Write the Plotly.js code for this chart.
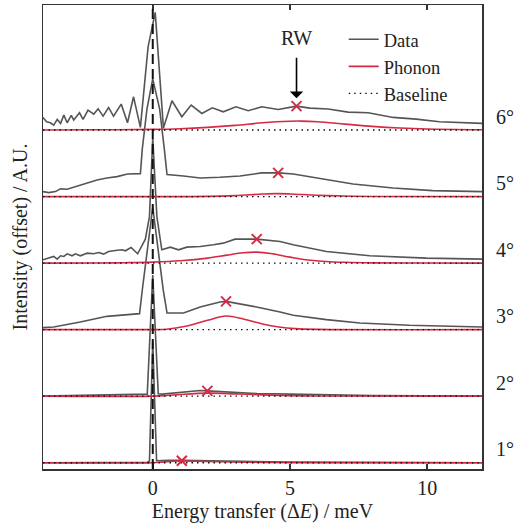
<!DOCTYPE html>
<html>
<head>
<meta charset="utf-8">
<script src="https://cdn.plot.ly/plotly-3.0.1.min.js"></script>
<style>
html,body{margin:0;padding:0;background:#fff;}
#chart{width:527px;height:529px;}
</style>
</head>
<body>
<div id="chart"></div>
<script>
// ---- Data (values relative to each curve's baseline) ----
const angleLabels = ['1°','2°','3°','4°','5°','6°'];
const offsets = [1, 2, 3, 4, 5, 6];
const xTicks = [0, 5, 10];
const elasticLine = 0;

const x1 = [-4,-2,-0.2,-0.12,0,0.14,0.3,0.6,1.06,1.6,2.5,3.5,5,7,9,12];
const y1 = [0,0.002,0.005,0.02,1.82,0.03,0.035,0.035,0.035,0.03,0.022,0.015,0.008,0.004,0.002,0];

const x2 = [-4,-3,-2,-1,-0.3,-0.2,0,0.2,0.35,1.0,1.73,1.99,2.7,3.8,5.0,6.5,8.0,10,12];
const y2 = [0,0.005,0.01,0.018,0.025,0.03,1.82,0.035,0.03,0.06,0.085,0.08,0.065,0.04,0.03,0.018,0.01,0.005,0.003];

const x3 = [-4,-3.61,-2.64,-1.67,-0.48,-0.38,0,0.38,0.52,1.12,1.73,2.45,2.67,3.18,3.91,4.64,5.12,6.33,7.55,9.36,12];
const y3 = [0.03,0.04,0.115,0.20,0.24,0.6,1.84,0.6,0.25,0.25,0.34,0.415,0.425,0.39,0.33,0.265,0.215,0.15,0.10,0.065,0.04];

const x4 = [-4.0,-3.79,-3.61,-3.48,-3.36,-3.24,-3.12,-2.94,-2.82,-2.64,-2.39,-2.15,-1.97,-1.79,-1.61,-1.36,-1.12,-1.0,-0.79,-0.55,-0.27,-0.12,0,0.15,0.33,0.64,0.94,1.24,1.73,2.21,2.57,3.0,3.43,3.79,4.64,5.12,6.33,7.91,9.97,12];
const y4 = [0.05,0.075,0.10,0.06,0.11,0.10,0.14,0.11,0.14,0.11,0.15,0.14,0.16,0.135,0.175,0.19,0.20,0.185,0.235,0.14,0.36,0.7,1.88,0.7,0.20,0.24,0.20,0.24,0.25,0.275,0.30,0.36,0.36,0.36,0.325,0.275,0.175,0.11,0.075,0.06];

const x5 = [-4.0,-3.79,-3.55,-3.36,-3.12,-2.88,-2.52,-2.03,-1.67,-1.30,-0.92,-0.45,-0.38,-0.21,0,0.25,0.42,0.52,1.12,1.73,2.45,3.18,3.97,4.57,5.12,6.09,7.30,8.76,10.2,12.0];
const y5 = [0.075,0.06,0.075,0.116,0.11,0.14,0.18,0.25,0.28,0.30,0.34,0.345,0.72,1.32,1.77,1.32,0.72,0.33,0.31,0.28,0.29,0.31,0.356,0.356,0.34,0.27,0.19,0.13,0.09,0.075];

const x6 = [-4.0,-3.87,-3.73,-3.61,-3.48,-3.36,-3.24,-3.12,-2.97,-2.88,-2.67,-2.54,-2.36,-2.15,-1.99,-1.81,-1.61,-1.43,-1.15,-0.92,-0.70,-0.45,-0.17,0.09,0.39,0.70,1.06,1.40,1.79,2.17,2.57,3.03,3.48,3.97,4.57,5.24,5.73,6.39,7.12,7.85,8.76,9.60,10.45,11.18,12.0];
const y6 = [0.19,0.125,0.11,0.075,0.16,0.10,0.225,0.11,0.22,0.15,0.26,0.16,0.30,0.24,0.32,0.21,0.34,0.21,0.39,0.11,0.50,0.04,1.25,1.77,0.03,0.44,0.20,0.376,0.25,0.335,0.275,0.35,0.29,0.35,0.31,0.36,0.33,0.316,0.27,0.26,0.19,0.165,0.125,0.11,0.10];

// Phonon fits
const p1x = [-4,0,0.4,1,2,3,4,5,12];
const p1y = [0,0,0.012,0.025,0.018,0.01,0.004,0.001,0];
const p2x = [-4,0,0.5,1,2,3,4,5,6,12];
const p2y = [0,0,0.01,0.025,0.045,0.035,0.02,0.008,0.002,0];
const p3x = [-4,0,0.5,1.2,2,2.67,3.3,4,4.6,5.2,6,12];
const p3y = [0,0,0.005,0.05,0.14,0.205,0.16,0.085,0.04,0.015,0.004,0];
const p4x = [-4,-2,-1,0,1,2,2.7,3.3,3.8,4.3,5,5.5,6.3,7,8,10,12];
const p4y = [0,0.002,0.006,0.015,0.035,0.075,0.12,0.155,0.165,0.145,0.09,0.055,0.025,0.012,0.004,0.001,0];
const p5x = [-4,0,2,3,4,4.5,5,6,7,8,12];
const p5y = [0,0,0.003,0.015,0.038,0.045,0.04,0.02,0.008,0.002,0];
const p6x = [-4,-2,0,1,2,3,4,5,5.4,6,7,8,9,10,12];
const p6y = [0,0.004,0.01,0.02,0.04,0.07,0.11,0.133,0.135,0.125,0.09,0.055,0.03,0.015,0.004];

// RW peak positions (markers)
const rwX = [1.06, 1.99, 2.67, 3.79, 4.57, 5.24];
const rwY = [0.03, 0.08, 0.425, 0.36, 0.356, 0.36];

const xRange = [-4, 12];
const yRange = [0.905, 7.88];

// ---- Build traces ----
const dataX = [x1,x2,x3,x4,x5,x6];
const dataY = [y1,y2,y3,y4,y5,y6];
const phonX = [p1x,p2x,p3x,p4x,p5x,p6x];
const phonY = [p1y,p2y,p3y,p4y,p5y,p6y];

const GRAY = '#555555';
const RED = '#d62a44';
const FONT = 'Liberation Serif, DejaVu Serif, serif';

const traces = [];
for (let i = 0; i < 6; i++) {
  traces.push({
    x: dataX[i], y: dataY[i].map(v => v + offsets[i]),
    mode: 'lines', name: 'Data', legendgroup: 'data', showlegend: i === 0,
    line: {color: GRAY, width: 1.6}
  });
}
for (let i = 0; i < 6; i++) {
  traces.push({
    x: phonX[i], y: phonY[i].map(v => v + offsets[i]),
    mode: 'lines', name: 'Phonon', legendgroup: 'phonon', showlegend: i === 0,
    line: {color: RED, width: 1.6, shape: 'spline', smoothing: 1}
  });
}
for (let i = 0; i < 6; i++) {
  traces.push({
    x: xRange, y: [offsets[i], offsets[i]],
    mode: 'lines', name: 'Baseline', legendgroup: 'base', showlegend: i === 0,
    line: {color: '#111', width: 1.4, dash: '1.5px,4px'}
  });
}
traces.push({
  x: rwX, y: rwY.map((v, i) => v + offsets[i]),
  mode: 'markers', showlegend: false,
  marker: {symbol: 'x-thin', size: 10, color: RED, line: {color: RED, width: 2}}
});

const annotations = angleLabels.map((t, i) => ({
  text: t, xref: 'paper', yref: 'y', x: 1, y: offsets[i] + 0.2,
  xanchor: 'left', yanchor: 'middle', xshift: 12, showarrow: false,
  font: {family: FONT, size: 20, color: '#222'}
}));
annotations.push({
  text: 'RW', xref: 'x', yref: 'y', x: rwX[5], y: 6.478,
  ax: 0, ay: -60, showarrow: true, arrowhead: 1, arrowsize: 1.4, arrowwidth: 1.6,
  arrowcolor: '#000', startstandoff: 7,
  font: {family: FONT, size: 20, color: '#222'}
});

const layout = {
  width: 527, height: 529,
  margin: {l: 42.5, r: 44.5, t: 5, b: 60, pad: 0},
  paper_bgcolor: '#fff', plot_bgcolor: '#fff',
  font: {family: FONT, size: 20, color: '#222'},
  showlegend: true,
  legend: {x: 0.685, y: 0.966, xanchor: 'left', yanchor: 'top',
           bgcolor: 'rgba(0,0,0,0)', borderwidth: 0,
           font: {family: FONT, size: 18.5, color: '#222'}, tracegroupgap: 0},
  xaxis: {
    range: xRange, tickvals: xTicks, ticks: 'inside', ticklen: 5, tickwidth: 1.5,
    tickcolor: '#333', showline: true, linecolor: '#333', linewidth: 1.5,
    mirror: 'ticks', showgrid: false, zeroline: false,
    tickfont: {family: FONT, size: 20, color: '#222'},
    title: {text: 'Energy transfer (Δ<i>E</i>) / meV', font: {family: FONT, size: 20, color: '#222'}, standoff: 6}
  },
  yaxis: {
    range: yRange, showticklabels: false, ticks: '', showline: true,
    linecolor: '#333', linewidth: 1.5, mirror: true, showgrid: false, zeroline: false,
    title: {text: 'Intensity (offset) / A.U.', font: {family: FONT, size: 20, color: '#222'}, standoff: 8}
  },
  shapes: [{
    type: 'line', xref: 'x', yref: 'paper', x0: elasticLine, x1: elasticLine, y0: 0, y1: 1,
    line: {color: '#111', width: 2, dash: '10px,5px'}, layer: 'above'
  }],
  annotations: annotations
};

Plotly.newPlot('chart', traces, layout, {staticPlot: true});
</script>
</body>
</html>
